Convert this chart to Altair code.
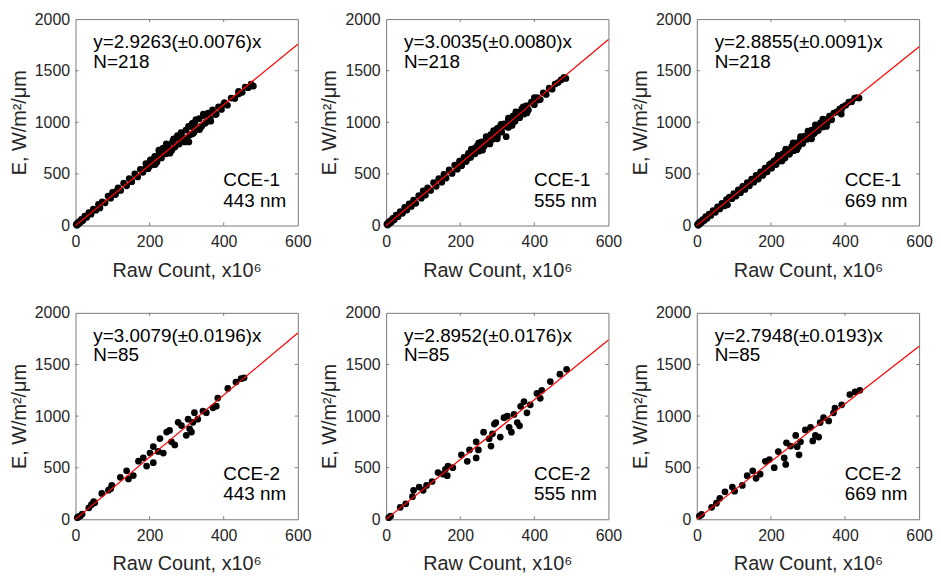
import altair as alt
import pandas as pd

# ---------------- data ----------------
# Panel 1: CCE-1, 443 nm
p1_x = [2, 4, 6, 8, 10, 13, 16, 20, 25, 30, 36, 42, 48, 55, 62, 66, 72, 80, 88, 95,
        100, 108, 115, 122, 130, 138, 145, 152, 160, 168, 175, 182, 190, 196, 202, 208,
        214, 220, 226, 232, 238, 244, 250, 256, 262, 268, 274, 280, 286, 292, 298, 302,
        306, 310, 316, 322, 328, 334, 340, 346, 352, 358, 364, 370, 378, 386, 394, 402,
        410, 420, 430, 440, 450, 458, 466, 474, 480,
        200, 250, 270, 300, 320, 340, 360, 230, 290, 330, 350, 380, 260, 310,
        210, 240, 280, 320, 360, 190, 150, 110, 400, 440,
        225, 245, 265, 285, 305, 325, 345, 235, 275, 315, 255, 295, 335, 215, 365]
p1_y = [12, 2, 25, 15, 38, 30, 60, 48, 90, 78, 125, 110, 160, 148, 205, 170, 230, 220, 285, 265,
        320, 300, 365, 340, 410, 385, 455, 425, 500, 470, 545, 515, 600, 550, 635, 590,
        670, 615, 710, 655, 750, 695, 780, 725, 815, 760, 850, 790, 885, 830, 925, 850,
        810, 960, 890, 1000, 935, 1035, 965, 1065, 1000, 1090, 1030, 1120, 1075, 1150, 1125, 1190,
        1165, 1235, 1230, 1300, 1290, 1340, 1335, 1370, 1350,
        575, 760, 770, 830, 900, 960, 1020, 660, 840, 945, 990, 1080, 730, 880,
        640, 730, 840, 950, 1075, 560, 440, 330, 1175, 1275,
        730, 790, 840, 900, 960, 1025, 1080, 745, 870, 990, 700, 810, 930, 590, 1010]

# Panel 2: CCE-1, 555 nm
p2_x = [2, 4, 6, 8, 11, 14, 18, 22, 27, 32, 38, 44, 50, 56, 62, 68, 74, 80, 88, 95,
        100, 106, 112, 120, 128, 135, 142, 150, 156, 162, 170, 178, 185, 192, 198, 204,
        210, 216, 222, 228, 234, 240, 246, 252, 258, 264, 270, 276, 282, 288, 294, 300,
        306, 312, 318, 324, 330, 336, 342, 348, 354, 360, 366, 372, 378, 384, 392, 400,
        408, 416, 424, 432, 440, 448, 456, 464, 472, 480, 485,
        240, 260, 280, 300, 320, 340, 360, 300, 250, 330, 350, 200, 380,
        160, 220, 270, 310, 370, 410,
        230, 250, 270, 290, 310, 330, 350, 370, 400, 260, 300, 340, 380, 280]
p2_y = [14, 4, 30, 16, 45, 32, 70, 55, 100, 85, 135, 118, 175, 150, 210, 185, 245, 215, 290, 265,
        335, 295, 365, 340, 415, 380, 455, 420, 495, 460, 540, 505, 585, 545, 625, 580,
        660, 620, 700, 660, 735, 695, 775, 730, 810, 765, 845, 800, 880, 835, 915, 870,
        950, 905, 985, 860, 1020, 975, 1060, 1010, 1095, 1045, 1130, 1080, 1160, 1120, 1195, 1170,
        1240, 1220, 1285, 1270, 1330, 1320, 1370, 1385, 1410, 1435, 1425,
        750, 760, 820, 870, 960, 990, 1050, 940, 720, 950, 1080, 580, 1160,
        470, 650, 790, 950, 1100, 1215,
        740, 800, 860, 920, 980, 1040, 1100, 1150, 1240, 730, 840, 970, 1090, 790]

# Panel 3: CCE-1, 669 nm
p3_x = [2, 4, 6, 8, 10, 13, 16, 20, 24, 28, 33, 38, 44, 50, 56, 62, 68, 74, 80, 83,
        88, 95, 100, 106, 112, 118, 124, 130, 136, 142, 148, 154, 160, 166, 172, 178,
        184, 190, 196, 202, 208, 214, 220, 226, 232, 238, 244, 250, 256, 262, 268, 274,
        280, 286, 292, 298, 305, 310, 316, 322, 328, 334, 340, 346, 352, 358, 364, 370,
        378, 386, 394, 402, 410, 418, 426, 432, 438,
        240, 260, 280, 300, 320, 250, 290, 230, 200, 270, 340, 360,
        150, 180, 215, 265, 330, 390,
        220, 240, 260, 280, 300, 320, 340, 230, 270, 310, 350, 390]
p3_y = [12, 2, 25, 14, 38, 28, 58, 48, 85, 70, 110, 98, 145, 128, 180, 160, 215, 190, 250, 200,
        275, 260, 310, 285, 345, 318, 380, 350, 415, 385, 450, 420, 485, 450, 520, 485,
        555, 520, 590, 555, 625, 590, 660, 625, 695, 655, 730, 690, 765, 725, 795, 760,
        835, 795, 865, 835, 864, 925, 890, 960, 920, 995, 955, 1025, 995, 1060, 1025, 1090,
        1100, 1130, 1150, 1165, 1195, 1200, 1235, 1240, 1235,
        720, 770, 790, 880, 905, 700, 860, 650, 600, 800, 960, 1060,
        445, 505, 640, 750, 970, 1120,
        680, 740, 800, 860, 915, 975, 1030, 625, 735, 840, 960, 1080]

# Panel 4: CCE-2, 443 nm
p4_x = [5, 8, 13, 18, 36, 43, 49, 52, 71, 89, 95, 98, 121, 138, 143, 156, 170, 183, 192,
        201, 210, 210, 223, 228, 237, 246, 254, 259, 268, 277, 286, 299, 304, 308, 313,
        317, 321, 330, 344, 353, 371, 380, 384, 411, 433, 447, 455]
p4_y = [15, 25, 31, 50, 110, 141, 172, 160, 250, 282, 297, 329, 407, 470, 391, 423, 563, 595, 516,
        642, 704, 548, 657, 782, 642, 845, 861, 751, 720, 939, 908, 814, 970, 876, 845,
        939, 1033, 970, 1049, 1033, 1080, 1096, 1174, 1268, 1330, 1362, 1370]

# Panel 5: CCE-2, 555 nm
p5_x = [7, 12, 38, 53, 71, 74, 89, 100, 109, 124, 140, 154, 160, 167, 165, 180, 203, 219,
        225, 243, 243, 249, 263, 278, 283, 287, 292, 296, 308, 318, 327, 332, 338, 345,
        354, 360, 363, 372, 380, 389, 407, 416, 420, 443, 469, 487]
p5_y = [16, 31, 116, 150, 219, 281, 312, 281, 328, 366, 453, 437, 484, 516, 422, 500, 625, 562,
        672, 594, 750, 672, 844, 781, 709, 828, 922, 937, 797, 984, 1000, 891, 844, 1016,
        937, 906, 1094, 1141, 1031, 1109, 1219, 1172, 1250, 1334, 1406, 1453]

# Panel 6: CCE-2, 669 nm
p6_x = [7, 13, 40, 53, 62, 76, 96, 102, 123, 136, 151, 160, 171, 185, 196, 209, 220, 236,
        240, 242, 253, 267, 271, 276, 280, 293, 307, 313, 320, 329, 333, 342, 356, 369,
        373, 391, 413, 427, 440]
p6_y = [31, 47, 116, 156, 203, 266, 312, 272, 328, 422, 469, 397, 437, 562, 578, 500, 656, 594,
        531, 741, 709, 812, 703, 625, 750, 866, 891, 759, 812, 797, 937, 984, 953, 1031,
        1078, 1109, 1209, 1234, 1250]

slopes = ["2.9263", "3.0035", "2.8855", "3.0079", "2.8952", "2.7948"]
errors = ["0.0076", "0.0080", "0.0091", "0.0196", "0.0176", "0.0193"]
counts = ["218", "218", "218", "85", "85", "85"]
cruises = ["CCE-1", "CCE-1", "CCE-1", "CCE-2", "CCE-2", "CCE-2"]
bands = ["443 nm", "555 nm", "669 nm", "443 nm", "555 nm", "669 nm"]
x_line = [0, 600]
x_ticks = [0, 200, 400, 600]
y_ticks = [0, 500, 1000, 1500, 2000]

xs = [p1_x, p2_x, p3_x, p4_x, p5_x, p6_x]
ys = [p1_y, p2_y, p3_y, p4_y, p5_y, p6_y]

# ---------------- chart ----------------
FONT = "Liberation Sans"
W, H = 224, 208
FRAME = "#7a7a7a"
INK = "#262626"

xsc = alt.Scale(domain=[0, 600], nice=False, zero=False)
ysc = alt.Scale(domain=[0, 2000], nice=False, zero=False)
common = dict(ticks=False, domain=False, grid=False, labelFlush=False, labelOverlap=False,
              labelFont=FONT, labelFontSize=16, labelColor=INK,
              titleFont=FONT, titleFontSize=20, titleFontWeight="normal", titleColor=INK,
              format="d")
xax = alt.Axis(values=x_ticks, labelPadding=8, titlePadding=11,
               title="Raw Count, x10⁶", **common)
yax = alt.Axis(values=y_ticks, labelPadding=6, titlePadding=5,
               title="E, W/m²/μm", **common)


def X(field):
    return alt.X(field, type="quantitative", scale=xsc, axis=xax)


def Y(field):
    return alt.Y(field, type="quantitative", scale=ysc, axis=yax)


def text_layer(txt, px, py):
    return alt.Chart(pd.DataFrame({"t": [txt]})).mark_text(
        align="left", baseline="alphabetic", font=FONT, fontSize=19, color="black"
    ).encode(x=alt.value(px), y=alt.value(py), text="t:N")


def panel(i):
    pts_df = pd.DataFrame({"x": xs[i], "y": ys[i]})
    slope = float(slopes[i])
    line_df = pd.DataFrame({"x": x_line, "y": [slope * v for v in x_line]})
    xt_df = pd.DataFrame({"v": x_ticks[1:-1]})
    yt_df = pd.DataFrame({"v": y_ticks[1:-1]})

    pts = alt.Chart(pts_df).mark_circle(size=46, color="black", opacity=1).encode(
        x=X("x"), y=Y("y"))
    line = alt.Chart(line_df).mark_line(color="#ff0000", strokeWidth=1.2).encode(
        x=X("x"), y=Y("y"))
    xb = alt.Chart(xt_df).mark_rule(color=FRAME, strokeWidth=1).encode(
        x=X("v"), y=alt.value(H), y2=alt.value(H - 3))
    xtop = alt.Chart(xt_df).mark_rule(color=FRAME, strokeWidth=1).encode(
        x=X("v"), y=alt.value(0), y2=alt.value(3))
    yl = alt.Chart(yt_df).mark_rule(color=FRAME, strokeWidth=1).encode(
        y=Y("v"), x=alt.value(0), x2=alt.value(3))
    yr = alt.Chart(yt_df).mark_rule(color=FRAME, strokeWidth=1).encode(
        y=Y("v"), x=alt.value(W - 3), x2=alt.value(W))

    t1 = text_layer(f"y={slopes[i]}(±{errors[i]})x", 18, 29)
    t2 = text_layer(f"N={counts[i]}", 18, 49)
    t3 = text_layer(cruises[i], 149, H - 40)
    t4 = text_layer(bands[i], 149, H - 19)

    return alt.layer(pts, line, xb, xtop, yl, yr, t1, t2, t3, t4).properties(
        width=W, height=H)


chart = alt.concat(
    *[panel(i) for i in range(6)],
    columns=3,
    spacing={"row": 88, "column": 89},
    bounds="flush",
).properties(
    padding={"left": 0, "top": 0, "right": 0, "bottom": 0},
    background="white",
).configure_view(
    stroke=FRAME, strokeWidth=1
)

chart.save("out.html", embed_options={"renderer": "svg", "actions": False})
